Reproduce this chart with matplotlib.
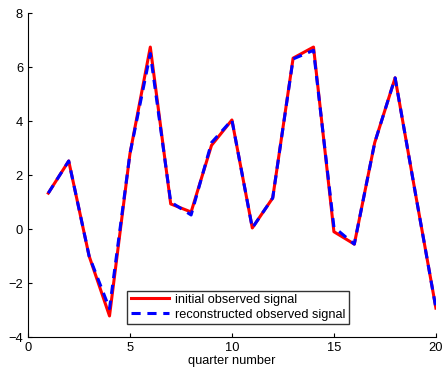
import matplotlib
matplotlib.use("Agg")
import matplotlib.pyplot as plt
import numpy as np

# quarter index and the two signals
quarters = np.arange(1, 21)
initial = [1.33, 2.52, -1.0, -3.22, 2.78, 6.74, 0.93, 0.63, 3.1, 4.04,
           0.04, 1.15, 6.33, 6.74, -0.1, -0.56, 3.2, 5.6, 1.3, -2.93]
reconstructed = [1.33, 2.52, -1.0, -2.95, 2.78, 6.5, 1.0, 0.52, 3.2, 4.04,
                 0.04, 1.15, 6.3, 6.62, 0.07, -0.56, 3.2, 5.6, 1.3, -2.93]
x_ticks = [0, 5, 10, 15, 20]
y_ticks = [-4, -2, 0, 2, 4, 6, 8]

plt.rcParams['font.family'] = ['Liberation Sans', 'DejaVu Sans']

fig = plt.figure(figsize=(4.43, 3.73), dpi=100)
ax = fig.add_axes([0.063, 0.0965, 0.921, 0.8685])

ax.plot(quarters, initial, color='red', lw=2.2, label='initial observed signal')
ax.plot(quarters, reconstructed, color='blue', lw=2.2, ls=(0, (3, 2.2)),
        label='reconstructed observed signal')

ax.set_xlim(0, 20)
ax.set_ylim(-4, 8)
ax.set_xticks(x_ticks)
ax.set_yticks(y_ticks)
ax.tick_params(direction='in', length=3, labelsize=9.3, width=0.8)
ax.spines['top'].set_visible(False)
ax.spines['right'].set_visible(False)
ax.set_xlabel('quarter number', fontsize=9.2, labelpad=1)

leg = ax.legend(loc='lower left', bbox_to_anchor=(0.228, 0.02), fontsize=9.2,
                frameon=True, fancybox=False, edgecolor='black',
                handlelength=3.0, borderpad=0.25, labelspacing=0.25,
                handletextpad=0.5)
leg.get_frame().set_linewidth(1.0)

fig.savefig('out.png', dpi=100)
